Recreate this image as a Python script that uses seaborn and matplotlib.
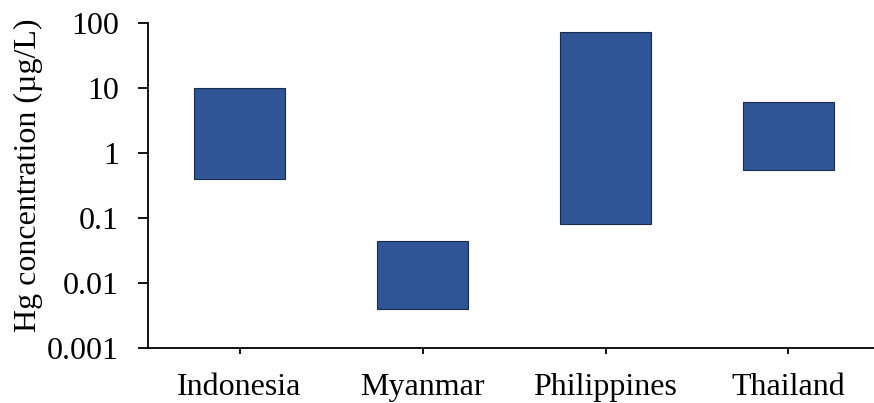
import pandas as pd
import seaborn as sns
import matplotlib.pyplot as plt
from matplotlib.ticker import FixedLocator, NullLocator

# Hg concentration ranges per country (ug/L)
countries = ['Indonesia', 'Myanmar', 'Philippines', 'Thailand']
hg_low = [0.4, 0.004, 0.08, 0.55]
hg_high = [10, 0.045, 72, 6]
ytick_vals = [0.001, 0.01, 0.1, 1, 10, 100]
ytick_labels = ['0.001', '0.01', '0.1', '1', '10', '100']

data = pd.DataFrame({'Country': countries, 'Low': hg_low, 'High': hg_high})
data['Span'] = data['High'] - data['Low']

sns.set_style('white')
plt.rcParams['font.family'] = ['Liberation Serif', 'DejaVu Serif']

fig = plt.figure(figsize=(8.74, 4.03), dpi=100)
ax = fig.add_axes([148 / 874, 1 - 348 / 403, 732 / 874, 325 / 403])

sns.barplot(data=data, x='Country', y='Span', bottom=data['Low'], color='#2F5597',
            saturation=1, width=0.5, edgecolor='#1A2A4A', linewidth=0.8, ax=ax)

ax.set_yscale('log')
ax.set_ylim(0.001, 100)
ax.set_xlim(-0.5, 3.5)
ax.yaxis.set_major_locator(FixedLocator(ytick_vals))
ax.yaxis.set_minor_locator(NullLocator())
ax.set_yticklabels(ytick_labels)

for side in ['top', 'right']:
    ax.spines[side].set_visible(False)
for side in ['left', 'bottom']:
    ax.spines[side].set_color('black')
    ax.spines[side].set_linewidth(1.3)

ax.tick_params(axis='y', which='major', direction='out', length=7, width=1.3,
               left=True, labelsize=23, colors='black', pad=14)
ax.tick_params(axis='x', which='major', direction='out', length=4, width=1.3,
               bottom=True, labelsize=23, colors='black', pad=14)

ax.set_xlabel('')
ax.set_ylabel('Hg concentration (µg/L)', fontsize=23, color='black')
ax.yaxis.set_label_coords(-0.143, 0.532)

fig.savefig('out.png', dpi=100)
